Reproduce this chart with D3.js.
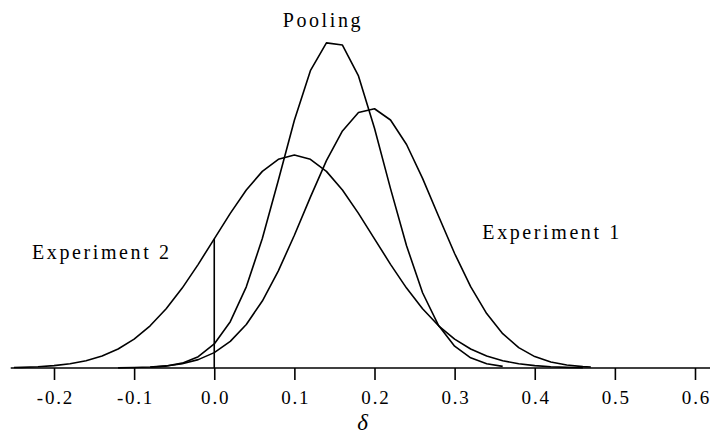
<!DOCTYPE html>
<html>
<head>
<meta charset="utf-8">
<script src="https://cdn.jsdelivr.net/npm/d3@7"></script>
<style>
  body { margin: 0; background: #fff; }
</style>
</head>
<body>
<div id="svg"></div>
<script>
// density curves
const poolX = [-0.08,-0.06,-0.04,-0.02,0.00,0.02,0.04,0.06,0.08,0.10,0.12,0.14,0.16,0.18,0.20,0.22,0.24,0.26,0.28,0.30,0.32,0.34,0.36]
const poolY = [0.013,0.036,0.091,0.212,0.450,0.868,1.520,2.425,3.517,4.64,5.57,6.09,6.05,5.47,4.49,3.36,2.29,1.41,0.795,0.408,0.190,0.080,0.031]

const exp1X = [-0.12,-0.10,-0.08,-0.06,-0.04,-0.02,0.00,0.02,0.04,0.06,0.08,0.10,0.12,0.14,0.16,0.18,0.20,0.22,0.24,0.26,0.28,0.30,0.32,0.34,0.36,0.38,0.40,0.42,0.44,0.46,0.47]
const exp1Y = [0.003,0.008,0.018,0.039,0.080,0.157,0.288,0.499,0.815,1.255,1.820,2.486,3.20,3.885,4.44,4.785,4.856,4.645,4.186,3.552,2.842,2.145,1.523,1.019,0.643,0.382,0.214,0.113,0.056,0.026,0.018]

const exp2X = [-0.25,-0.24,-0.22,-0.20,-0.18,-0.16,-0.14,-0.12,-0.10,-0.08,-0.06,-0.04,-0.02,0.00,0.02,0.04,0.06,0.08,0.10,0.12,0.14,0.16,0.18,0.20,0.22,0.24,0.26,0.28,0.30,0.32,0.34,0.36,0.38,0.40,0.42,0.44,0.46]
const exp2Y = [0.009,0.012,0.024,0.044,0.079,0.136,0.224,0.355,0.540,0.790,1.109,1.497,1.942,2.420,2.897,3.333,3.683,3.910,3.989,3.910,3.683,3.333,2.897,2.420,1.942,1.497,1.109,0.790,0.540,0.355,0.224,0.136,0.079,0.044,0.024,0.012,0.006]

const tickVals = [-0.2,-0.1,0.0,0.1,0.2,0.3,0.4,0.5,0.6]
const axisExtent = [-0.254, 0.62]
const markAt = 0.0   // vertical line under Experiment 2

const labels = [
  {text: "Pooling", x: 0.134, y: 6.38},
  {text: "Experiment 1", x: 0.420, y: 2.42},
  {text: "Experiment 2", x: -0.142, y: 2.04}
]

const FONT = '"Liberation Serif", "DejaVu Serif", "Times New Roman", serif'
const TICK_SP = 1.8, LAB_SP = 2.6

const W = 710, H = 435
const svg = d3.select('#svg').append('svg')
    .attr('width', W)
    .attr('height', H)

const x = d3.scaleLinear().domain([-0.2, 0.6]).range([54, 695])
const y = d3.scaleLinear().domain([0, 6.5]).range([368, 21])

const line = d3.line()
    .x(d => x(d[0]))
    .y(d => y(d[1]))

const series = [
  d3.zip(poolX, poolY),
  d3.zip(exp1X, exp1Y),
  d3.zip(exp2X, exp2Y)
]

svg.selectAll('path.curve')
    .data(series)
    .enter()
    .append('path')
    .attr('class', 'curve')
    .attr('d', line)
    .attr('fill', 'none')
    .attr('stroke', '#000')
    .attr('stroke-width', 1.6)
    .attr('stroke-linejoin', 'round')

// vertical line at 0 up to the Experiment 2 curve
const markY = exp2Y[exp2X.indexOf(markAt)]
svg.append('line')
    .attr('x1', x(markAt)).attr('x2', x(markAt))
    .attr('y1', y(0)).attr('y2', y(markY))
    .attr('stroke', '#000')
    .attr('stroke-width', 1.6)

// axis
const ax = svg.append('g')
    .attr('transform', 'translate(0,' + y(0) + ')')
    .call(d3.axisBottom(x)
        .tickValues(tickVals)
        .tickSize(12)
        .tickPadding(11)
        .tickFormat(d => d.toFixed(1)))
ax.attr('font-family', null).attr('font-size', null)
ax.select('.domain').remove()
ax.selectAll('.tick line').attr('stroke-width', 1.6)
ax.selectAll('.tick text')
    .attr('dx', TICK_SP / 2)   // letter-spacing leaves a trailing gap, re-centre
    .style('font-family', FONT)
    .style('font-size', '19px')
    .style('letter-spacing', TICK_SP + 'px')
    .attr('fill', '#000')

svg.append('line')
    .attr('x1', x(axisExtent[0])).attr('x2', x(axisExtent[1]))
    .attr('y1', y(0)).attr('y2', y(0))
    .attr('stroke', '#000')
    .attr('stroke-width', 1.6)

svg.append('text')
    .attr('x', x(0.185))
    .attr('y', 430)
    .attr('text-anchor', 'middle')
    .style('font-family', FONT)
    .style('font-size', '23px')
    .style('font-style', 'italic')
    .text('δ')

svg.selectAll('text.lab')
    .data(labels)
    .enter()
    .append('text')
    .attr('class', 'lab')
    .attr('x', d => x(d.x))
    .attr('y', d => y(d.y))
    .attr('dx', LAB_SP / 2)
    .attr('text-anchor', 'middle')
    .style('font-family', FONT)
    .style('font-size', '20px')
    .style('letter-spacing', LAB_SP + 'px')
    .text(d => d.text)
</script>
</body>
</html>
